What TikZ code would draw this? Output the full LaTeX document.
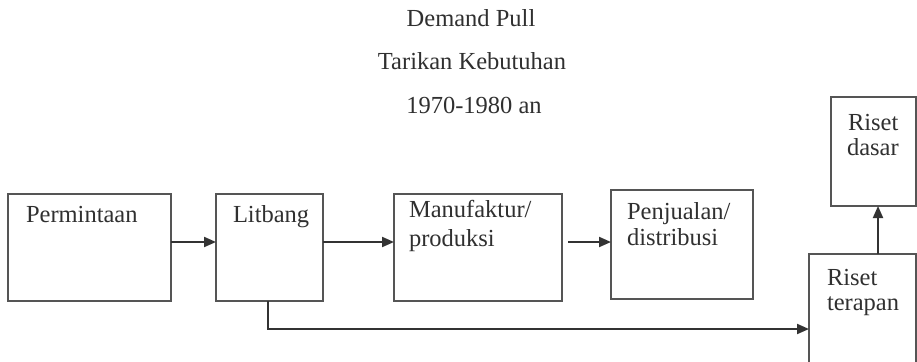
\documentclass[tikz,border=0pt]{standalone}
\usepackage{fontspec}
\setmainfont{Liberation Serif}
\usetikzlibrary{arrows.meta}
\definecolor{inkline}{HTML}{555555}
\definecolor{inktext}{HTML}{303030}
\tikzset{
  stagebox/.style={draw=inkline, line width=2pt, fill=none, inner sep=0pt, outer sep=0pt},
  lbl/.style={anchor=base west, inner sep=0pt, outer sep=0pt, text=inktext,
              font=\fontsize{24.5}{27}\selectfont},
  ttl/.style={anchor=base, inner sep=0pt, outer sep=0pt, text=inktext,
              font=\fontsize{24.5}{27}\selectfont},
  flow/.style={draw=black!80, line width=2pt,
               -{Triangle[length=12pt,width=10pt]}}
}
\begin{document}
\begin{tikzpicture}[x=1pt,y=-1pt]
  \clip (0,0) rectangle (917,361);
  \fill[white] (0,0) rectangle (917,361);

  % heading
  \node[ttl] (t1) at (471,27)  {Demand Pull};
  \node[ttl] (t2) at (472,70)  {Tarikan Kebutuhan};
  \node[ttl] (t3) at (474,113) {1970-1980 an};

  % stage boxes
  \node[stagebox, minimum width=163pt, minimum height=107pt] (perm)    at (89.5,247.5) {};
  \node[stagebox, minimum width=107pt, minimum height=107pt] (litbang) at (269.5,247.5) {};
  \node[stagebox, minimum width=168pt, minimum height=107pt] (manuf)   at (478,247.5) {};
  \node[stagebox, minimum width=142pt, minimum height=109pt] (penj)    at (682,244.5) {};
  \node[stagebox, minimum width=85pt,  minimum height=109pt] (dasar)   at (873.5,151.5) {};
  \node[stagebox, minimum width=107pt, minimum height=112pt] (terapan) at (862.5,310) {};

  % box texts
  \node[lbl] (permT)  at (26,222)  {Permintaan};
  \node[lbl] (litT)   at (233,222) {Litbang};
  \node[lbl] (manT1)  at (409,217) {Manufaktur/};
  \node[lbl] (manT2)  at (409,246) {produksi};
  \node[lbl] (penT1)  at (627,219) {Penjualan/};
  \node[lbl] (penT2)  at (627,245) {distribusi};
  \node[lbl] (dasT1)  at (848,130) {Riset};
  \node[lbl] (dasT2)  at (847,155) {dasar};
  \node[lbl] (terT1)  at (827,285) {Riset};
  \node[lbl] (terT2)  at (827,310) {terapan};

  % connectors
  \draw[flow] ([yshift=5.5pt]perm.east) -- ([yshift=5.5pt]litbang.west);
  \draw[flow] ([yshift=5.5pt]litbang.east) -- ([yshift=5.5pt]manuf.west);
  \draw[flow] ([xshift=6pt,yshift=5.5pt]manuf.east) -- ([yshift=2.5pt]penj.west);
  \draw[flow] ([xshift=-1.5pt]litbang.south) |- ([yshift=-19pt]terapan.west);
  \draw[flow] ([xshift=15.5pt]terapan.north) -- ([xshift=4.5pt]dasar.south);
\end{tikzpicture}
\end{document}
